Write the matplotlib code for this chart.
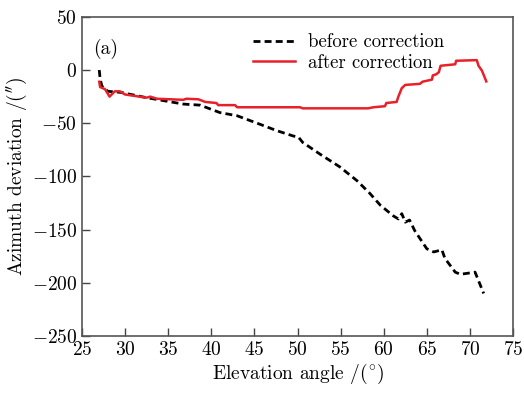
import matplotlib.pyplot as plt

plt.rcParams['font.family'] = ['cmr10', 'DejaVu Serif']
plt.rcParams['mathtext.fontset'] = 'cm'
plt.rcParams['axes.formatter.use_mathtext'] = True

# before correction (black dashed)
x_before = [27.0, 27.1, 27.3, 28.0, 29.5, 32.5, 36.75, 38.7, 41.0, 43.0, 45.65,
            47.6, 49.5, 50.1, 50.6, 52.6, 54.9, 56.9, 58.4, 59.6, 60.2, 61.1,
            61.7, 62.1, 62.5, 63.0, 63.6, 65.0, 65.8, 66.75, 67.1, 68.3, 68.9,
            70.6, 70.8, 71.6]
y_before = [0, -8, -15, -20, -21, -26, -32, -33, -40, -43, -51,
            -57, -62, -63, -68, -79, -91, -104, -116, -127, -131, -137,
            -140, -135, -143, -141, -151, -168, -171, -169, -177, -190, -192,
            -190, -194, -210]

# after correction (red solid)
x_after = [27.0, 27.1, 27.67, 28.2, 28.8, 29.4, 30.0, 32.5, 32.9, 33.7, 36.75,
           37.1, 38.5, 39.3, 40.6, 40.8, 42.75, 43.0, 50.3, 50.6, 58.2, 58.8,
           60.15, 60.3, 61.5, 61.7, 62.1, 62.5, 64.2, 64.5, 65.6, 65.7, 66.1,
           66.4, 66.6, 68.3, 68.4, 70.8, 71.0, 71.4, 71.9]
y_after = [-11, -16, -18, -25, -20, -20, -23, -26, -25, -27, -28,
           -27, -27.5, -30, -31, -33, -33, -35, -35, -36, -36, -35,
           -34, -31, -30, -25, -17, -14, -13, -11, -9, -5, -4, -2, 4, 5.4,
           8.7, 9.3, 4, -0.6, -10.7]

fig = plt.figure(figsize=(5.24, 3.96), dpi=100)
ax = fig.add_axes([0.1565, 0.1515, 0.8225, 0.806])

ax.plot(x_before, y_before, color='black', linestyle=(0, (2.5, 1.5)), lw=2.0,
        label='before correction')
ax.plot(x_after, y_after, color='#e8202a', lw=1.8, label='after correction')

ax.set_xlim(25, 75)
ax.set_ylim(-250, 50)
ax.set_xticks(range(25, 80, 5))
ax.set_yticks(range(-250, 51, 50))
ax.tick_params(direction='in', length=6, width=1.0, labelsize=14, color='#444444')
for s in ax.spines.values():
    s.set_color('#555555')
    s.set_linewidth(1.2)

ax.set_xlabel(r'Elevation angle /($^{\circ}$)', fontsize=14, labelpad=2)
ax.set_ylabel(r"Azimuth deviation /($''$)", fontsize=14, labelpad=2)
ax.text(0.025, 0.93, '(a)', transform=ax.transAxes, fontsize=14, va='top')
ax.legend(loc='upper right', bbox_to_anchor=(0.87, 0.99), frameon=False,
          fontsize=13.5, handlelength=2.2, handletextpad=0.7,
          borderaxespad=0.3, labelspacing=0.15)

fig.savefig('out.png', dpi=100)
